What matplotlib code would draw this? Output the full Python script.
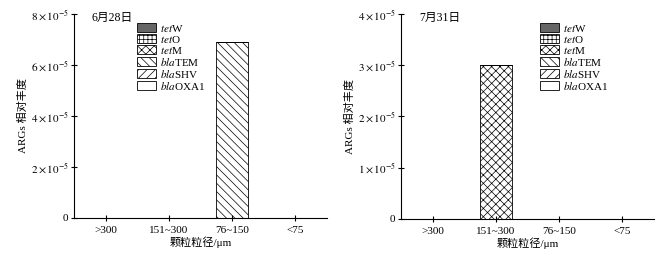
import matplotlib
matplotlib.use("Agg")
import matplotlib.pyplot as plt
from matplotlib.patches import Patch
from matplotlib.ticker import FuncFormatter

plt.rcParams['font.family'] = ['Liberation Serif', 'Noto Sans CJK SC']
plt.rcParams['mathtext.fontset'] = 'stix'
plt.rcParams['hatch.linewidth'] = 0.5

sizes = ['>300', '151~300', '76~150', '<75']
genes = ['tetW', 'tetO', 'tetM', 'blaTEM', 'blaSHV', 'blaOXA1']
gene_labels = [r'$\it{tet}$W', r'$\it{tet}$O', r'$\it{tet}$M',
               r'$\it{bla}$TEM', r'$\it{bla}$SHV', r'$\it{bla}$OXA1']

# rows follow genes, columns follow sizes
jun28 = [[0, 0, 0, 0],
         [0, 0, 0, 0],
         [0, 0, 0, 0],
         [0, 0, 6.9e-5, 0],
         [0, 0, 0, 0],
         [0, 0, 0, 0]]
jul31 = [[0, 0, 0, 0],
         [0, 0, 0, 0],
         [0, 3.0e-5, 0, 0],
         [0, 0, 0, 0],
         [0, 0, 0, 0],
         [0, 0, 0, 0]]

colors = ['#666666', 'white', 'white', 'white', 'white', 'white']
hatches = [None, '++++', 'xxxx', '\\\\\\\\', '////', None]


def sci(v, pos):
    if v == 0:
        return '0'
    m = v / 1e-5
    return r'$%d\times10^{-5}$' % round(m)


fig = plt.figure(figsize=(6.62, 2.54), dpi=100)
panels = [
    (fig.add_axes([0.112, 0.142, 0.382, 0.803]), jun28, 8e-5, 2e-5, '6月28日', (0.249, 0.958)),
    (fig.add_axes([0.606, 0.138, 0.382, 0.807]), jul31, 4e-5, 1e-5, '7月31日', (0.549, 0.958)),
]

for ax, data, ymax, step, title, leg_pos in panels:
    x = list(range(len(sizes)))
    bottom = [0.0] * len(sizes)
    for i, g in enumerate(genes):
        vals = data[i]
        hs = [v if v > 0 else 0 for v in vals]
        ax.bar(x, hs, 0.5, bottom=bottom, color=colors[i], hatch=hatches[i],
               edgecolor='black', linewidth=0.6)
        bottom = [b + h for b, h in zip(bottom, hs)]
    ax.set_xlim(-0.5, 3.5)
    ax.set_ylim(0, ymax)
    ax.set_yticks([step * k for k in range(int(round(ymax / step)) + 1)])
    ax.yaxis.set_major_formatter(FuncFormatter(sci))
    ax.set_xticks(x)
    ax.set_xticklabels(sizes)
    ax.spines['top'].set_visible(False)
    ax.spines['right'].set_visible(False)
    ax.spines['left'].set_linewidth(0.8)
    ax.spines['bottom'].set_linewidth(0.8)
    ax.tick_params(axis='y', direction='inout', length=4, width=0.8, labelsize=8, pad=2)
    ax.tick_params(axis='x', direction='inout', length=4, width=0.8, labelsize=8, pad=4)
    ax.set_xlabel('颗粒粒径/μm', fontsize=8, labelpad=1)
    ax.set_ylabel('ARGs 相对丰度', fontsize=8, labelpad=2)
    ax.text(0.07, 1.01, title, transform=ax.transAxes, fontsize=8.5, va='top', ha='left')
    handles = [Patch(facecolor=colors[i], hatch=hatches[i], edgecolor='black', linewidth=0.6)
               for i in range(len(genes))]
    ax.legend(handles, gene_labels, loc='upper left', bbox_to_anchor=leg_pos,
              frameon=False, fontsize=8, handlelength=1.7, handleheight=0.85,
              handletextpad=0.4, labelspacing=0.0, borderaxespad=0, borderpad=0)

fig.savefig('out.png', dpi=100)
